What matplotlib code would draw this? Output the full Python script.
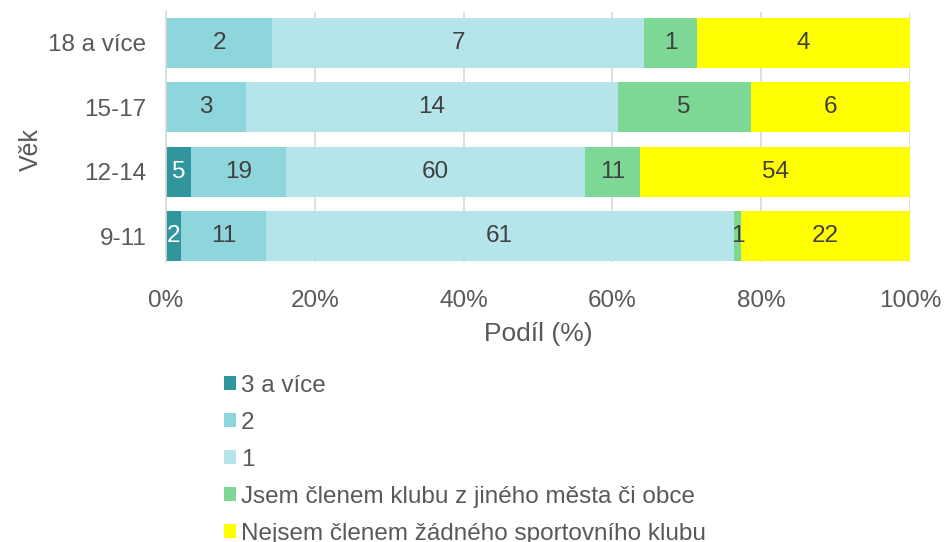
import matplotlib

matplotlib.use("Agg")
import matplotlib.pyplot as plt
import numpy as np

plt.rcParams["font.family"] = ["Liberation Sans", "DejaVu Sans"]

categories = ["9-11", "12-14", "15-17", "18 a více"]
series_names = [
    "3 a více",
    "2",
    "1",
    "Jsem členem klubu z jiného města či obce",
    "Nejsem členem žádného sportovního klubu",
]
counts_3plus = [2, 5, 0, 0]
counts_2 = [11, 19, 3, 2]
counts_1 = [61, 60, 14, 7]
counts_other_town = [1, 11, 5, 1]
counts_none = [22, 54, 6, 4]

COLORS = ["#31959e", "#8fd5dc", "#b5e5ea", "#7dd895", "#ffff00"]
LABEL_COLORS = ["white", "#404040", "#404040", "#404040", "#404040"]

all_counts = np.array([counts_3plus, counts_2, counts_1, counts_other_town, counts_none], dtype=float)
totals = all_counts.sum(axis=0)
shares = all_counts / totals * 100

fig = plt.figure(figsize=(9.44, 5.42), dpi=100)
ax = fig.add_axes([166 / 944, 1 - 262 / 542, (910 - 166) / 944, (262 - 12) / 542])

y = np.arange(len(categories))
left = np.zeros(len(categories))
handles = []
for i, name in enumerate(series_names):
    bars = ax.barh(y, shares[i], left=left, height=0.78, color=COLORS[i], label=name, zorder=2)
    handles.append(bars)
    for j, (cnt, w) in enumerate(zip(all_counts[i], shares[i])):
        if cnt > 0:
            ax.text(left[j] + w / 2, y[j], f"{int(cnt)}", ha="center", va="center",
                    fontsize=17.5, color=LABEL_COLORS[i], zorder=3)
    left += shares[i]

ax.set_xlim(0, 100)
ax.set_ylim(-0.4, 3.48)
ax.set_xticks(np.arange(0, 101, 20))
ax.set_xticklabels([f"{v}%" for v in range(0, 101, 20)])
ax.set_yticks(y)
ax.set_yticklabels(categories)
ax.tick_params(axis="both", length=0, labelsize=17.5, labelcolor="#595959")
ax.tick_params(axis="x", pad=20)
ax.tick_params(axis="y", pad=14)
ax.grid(axis="x", color="#d9d9d9", linewidth=1.2, zorder=0)
for side in ("top", "right", "bottom"):
    ax.spines[side].set_visible(False)
ax.spines["left"].set_color("#d9d9d9")
ax.spines["left"].set_linewidth(1.2)

ax.set_xlabel("Podíl (%)", fontsize=19, color="#595959", labelpad=7)
ax.set_ylabel("Věk", fontsize=18, color="#595959")
ax.yaxis.set_label_coords(-0.166, 0.45)

fig.legend(handles=handles, labels=series_names, loc="upper left",
           bbox_to_anchor=(214 / 944, 1 - 365 / 542), frameon=False,
           fontsize=17.5, labelcolor="#595959", handlelength=0.5, handleheight=0.5,
           handletextpad=0.2, labelspacing=0.62, borderaxespad=0)

fig.savefig("out.png", dpi=100)
